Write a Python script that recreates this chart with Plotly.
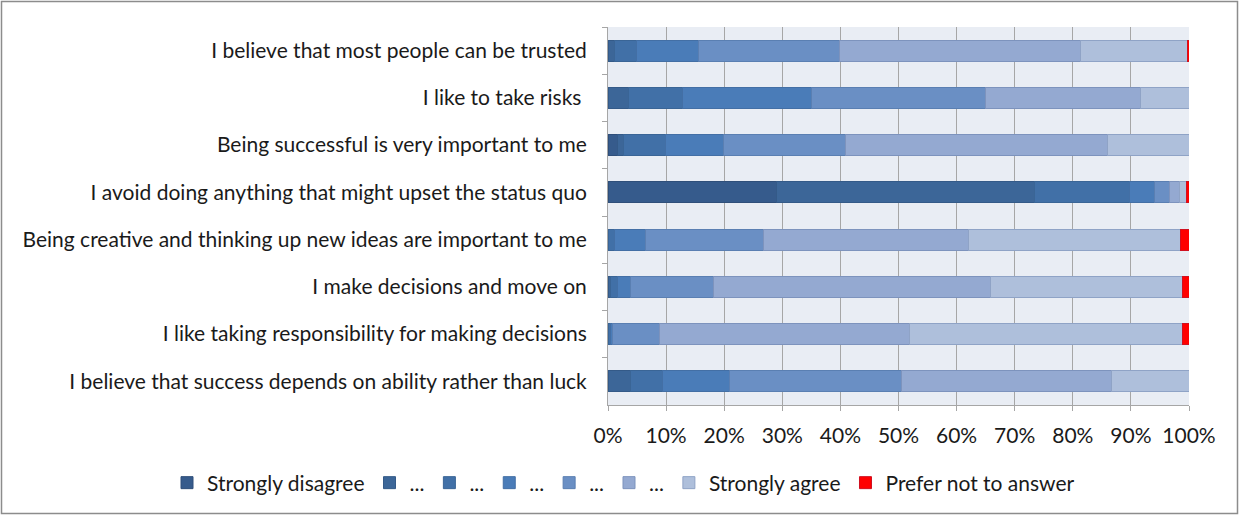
import plotly.graph_objects as go

statements = [
    "I believe that most people can be trusted",
    "I like to take risks ",
    "Being successful is very important to me",
    "I avoid doing anything that might upset the status quo",
    "Being creative and thinking up new ideas are important to me",
    "I make decisions and move on",
    "I like taking responsibility for making decisions",
    "I believe that success depends on ability rather than luck",
]

series_names = ["Strongly disagree", "...", "...", "...", "...", "...",
                "Strongly agree", "Prefer not to answer"]

# percentage of responses per statement (same order as statements)
strongly_disagree = [0.0, 0.0, 1.6, 29.0, 0.0, 0.0, 0.0, 0.0]
level_2 = [1.2, 3.5, 1.0, 44.4, 0.0, 0.35, 0.0, 3.8]
level_3 = [3.7, 9.4, 7.3, 16.3, 1.2, 1.25, 0.35, 5.6]
level_4 = [10.7, 22.2, 9.9, 4.3, 5.2, 2.2, 0.45, 11.5]
level_5 = [24.3, 29.8, 21.0, 2.6, 20.4, 14.4, 8.1, 29.7]
level_6 = [41.5, 26.8, 45.1, 1.8, 35.2, 47.6, 43.0, 36.0]
strongly_agree = [18.3, 8.3, 14.1, 1.2, 36.6, 33.1, 47.0, 13.4]
prefer_not = [0.3, 0.0, 0.0, 0.4, 1.4, 1.1, 1.1, 0.0]

series_values = [strongly_disagree, level_2, level_3, level_4, level_5,
                 level_6, strongly_agree, prefer_not]

x_ticks = [0, 10, 20, 30, 40, 50, 60, 70, 80, 90, 100]
x_tick_labels = ["0%", "10%", "20%", "30%", "40%", "50%", "60%", "70%",
                 "80%", "90%", "100%"]

colors = ["#365b8c", "#3c6698", "#4170a7", "#4a7cb8", "#6a8fc4",
          "#94a9d1", "#aebfdb", "#ff0000"]
line_colors = ["#2f4f7a", "#345a88", "#3a6596", "#436fa5", "#5a7fb2",
               "#7d93bd", "#8fa3c6", "#d01020"]

FONT = "Lato"
FS = 21

fig = go.Figure()
for name, vals, c, lc in zip(series_names, series_values, colors, line_colors):
    fig.add_trace(go.Bar(
        y=statements, x=vals, name=name, orientation="h",
        marker=dict(color=c, line=dict(color=lc, width=1)),
        hoverinfo="x+y+name",
    ))

W, H = 1239, 515
L, R, T, B = 608, 50, 27, 110
pw, ph = W - L - R, H - T - B

def px_x(p):
    return (p - L) / pw

def px_y(p):
    return (H - B - p) / ph

fig.update_layout(
    width=W, height=H,
    margin=dict(l=L, r=R, t=T, b=B, pad=0),
    barmode="stack",
    bargap=0.56,
    plot_bgcolor="#e9edf4",
    paper_bgcolor="#ffffff",
    font=dict(family=FONT, size=FS, color="#1a1a1a"),
    showlegend=True,
    legend=dict(
        orientation="h",
        x=px_x(167), xanchor="left",
        y=px_y(483), yanchor="middle",
        font=dict(family=FONT, size=FS, color="#1a1a1a"),
        traceorder="normal",
        itemclick=False, itemdoubleclick=False,
        bgcolor="rgba(0,0,0,0)",
    ),
    xaxis=dict(
        range=[0, 100],
        tickmode="array", tickvals=x_ticks, ticktext=x_tick_labels,
        showgrid=True, gridcolor="#a6a6a6", gridwidth=1,
        showline=True, linecolor="#a6a6a6", linewidth=1,
        ticks="outside", ticklen=5, tickcolor="#a6a6a6",
        ticklabelstandoff=7,
        zeroline=False,
        tickfont=dict(family=FONT, size=FS, color="#1a1a1a"),
        fixedrange=True,
    ),
    yaxis=dict(
        categoryorder="array", categoryarray=statements,
        autorange="reversed",
        showgrid=False,
        showline=True, linecolor="#a6a6a6", linewidth=1,
        ticks="outside", ticklen=5, tickcolor="#a6a6a6",
        tickson="boundaries",
        ticklabelstandoff=16,
        tickfont=dict(family=FONT, size=FS, color="#1a1a1a"),
        fixedrange=True,
    ),
    shapes=[dict(
        type="rect", xref="paper", yref="paper",
        x0=px_x(1.5), x1=px_x(1237.5), y0=px_y(1.5), y1=px_y(513.5),
        line=dict(color="#8c8c8c", width=1.5), fillcolor="rgba(0,0,0,0)",
        layer="below",
    )],
)

fig.write_html("out.html", config={"displayModeBar": False},
               post_script="document.body.style.margin='0';document.body.style.overflow='hidden';")
